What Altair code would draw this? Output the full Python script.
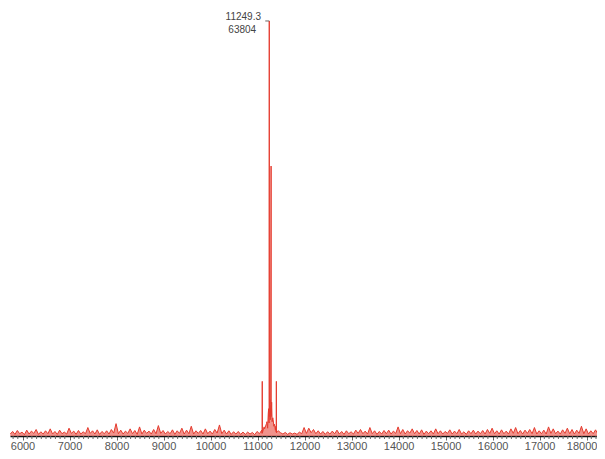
import altair as alt
import pandas as pd

# Background noise, sampled every 50 Da from 5740 to 18390
noise_mass = list(range(5740, 18400, 50))
noise_int = [
    300, 700, 250, 850, 350, 600, 200, 900, 300, 750, 400, 1000, 250, 650, 300, 800, 350, 1100, 300, 700,
    250, 900, 350, 600, 300, 1200, 400, 750, 250, 850, 300, 650, 350, 1300, 400, 800, 300, 950, 250, 700,
    350, 800, 300, 1000, 450, 1900, 350, 900, 300, 750, 400, 1100, 350, 850, 250, 1400, 300, 900, 400, 750,
    300, 1000, 350, 1600, 400, 850, 300, 700, 350, 950, 250, 800, 400, 1200, 300, 900, 350, 1500, 300, 800,
    400, 850, 300, 1100, 350, 750, 300, 1000, 450, 1700, 350, 900, 300, 800, 250, 650, 300, 700, 250, 600,
    250, 600, 300, 550, 200, 700, 350, 900, 1400, 1900, 2500, 3200, 2000, 1500, 800, 500, 300, 550, 250, 500,
    300, 450, 250, 600, 350, 1300, 400, 1200, 500, 1000, 350, 800, 300, 700, 250, 650, 300, 750, 350, 900,
    300, 700, 250, 800, 350, 650, 300, 900, 400, 1000, 350, 750, 300, 1300, 350, 800, 250, 700, 300, 850,
    350, 900, 300, 750, 400, 1400, 350, 1000, 300, 800, 450, 1100, 350, 850, 300, 950, 250, 750, 350, 800,
    300, 1100, 350, 800, 300, 700, 400, 950, 300, 750, 350, 1000, 300, 650, 250, 800, 350, 900, 300, 750,
    350, 850, 300, 1000, 400, 1200, 350, 800, 300, 950, 350, 750, 300, 1100, 400, 1300, 350, 850, 300, 900,
    400, 1000, 350, 1300, 300, 800, 350, 900, 300, 1400, 400, 1100, 350, 750, 300, 950, 400, 1200, 350, 1000,
    300, 900, 400, 1500, 350, 1100, 300, 800, 350, 950, 300, 750, 350, 850,
]

# Protein peak cluster
peak_mass = [11097, 11100, 11103, 11150, 11200, 11215, 11228, 11236, 11246, 11249.3, 11253, 11262,
             11270, 11280, 11288, 11292, 11300, 11310, 11325, 11345, 11360, 11380, 11397, 11400, 11403, 11420]
peak_int = [400, 8400, 500, 1100, 2200, 1200, 3500, 4200, 2000, 63804, 3000, 5600,
            2500, 4800, 41500, 3000, 5200, 2200, 2800, 1500, 1800, 900, 600, 8400, 500, 700]

label_mass = [11249.3]
label_int = [63804]
label_mass_txt = ["11249.3"]
label_int_txt = ["63804"]

major_ticks = list(range(6000, 18001, 1000))
minor_ticks = [v for v in range(5800, 18300, 100) if v % 1000 != 0]

df = pd.DataFrame({"mass": noise_mass + peak_mass, "intensity": noise_int + peak_int}).sort_values("mass")
lab = pd.DataFrame({"mass": label_mass, "intensity": label_int,
                    "mtxt": label_mass_txt, "itxt": label_int_txt})
minor = pd.DataFrame({"mass": minor_ticks})

W, H = 587, 428
RED = "#e53b2e"
xscale = alt.Scale(domain=[5734, 18221], nice=False, zero=False)
yscale = alt.Scale(domain=[0, 65800], nice=False, zero=False)

xaxis = alt.Axis(
    values=major_ticks, format="d", tickSize=4,
    labelOverlap=False, title=None, grid=False,
    labelOffset={"condition": {"test": "datum.value === 18000", "value": -5}, "value": 0},
    domainColor="#111", domainWidth=1.5, tickColor="#666", tickWidth=1,
    labelColor="#555", labelFontSize=11, labelFont="Liberation Sans", labelPadding=0)

area = alt.Chart(df).mark_area(color=RED, opacity=0.55, clip=True).encode(
    x=alt.X("mass:Q", scale=xscale, axis=xaxis),
    y=alt.Y("intensity:Q", scale=yscale, axis=None),
)
line = alt.Chart(df).mark_line(color=RED, strokeWidth=1, clip=True).encode(
    x=alt.X("mass:Q", scale=xscale),
    y=alt.Y("intensity:Q", scale=yscale),
)

minor_layer = alt.Chart(minor).mark_rule(color="#666", strokeWidth=1).encode(
    x=alt.X("mass:Q", scale=xscale), y=alt.value(H), y2=alt.value(H + 3))

base = alt.Chart(lab)
conn = base.mark_rule(color="#666", strokeWidth=1).transform_calculate(
    m2="datum.mass - 85"
).encode(x=alt.X("mass:Q", scale=xscale), x2="m2:Q", y=alt.Y("intensity:Q", scale=yscale))

t1 = base.mark_text(dx=-26, dy=-4, fontSize=10, color="#444", font="Liberation Sans").encode(
    x=alt.X("mass:Q", scale=xscale), y=alt.Y("intensity:Q", scale=yscale), text="mtxt:N")
t2 = base.mark_text(dx=-27, dy=9, fontSize=10, color="#444", font="Liberation Sans").encode(
    x=alt.X("mass:Q", scale=xscale), y=alt.Y("intensity:Q", scale=yscale), text="itxt:N")

chart = alt.layer(area, line, minor_layer, conn, t1, t2).properties(
    width=W, height=H,
    padding={"left": 2, "top": 0, "right": 0, "bottom": 15},
    autosize=alt.AutoSizeParams(type="none"),
).configure_view(stroke=None)

chart.save("out.html", embed_options={"renderer": "svg", "actions": False})
